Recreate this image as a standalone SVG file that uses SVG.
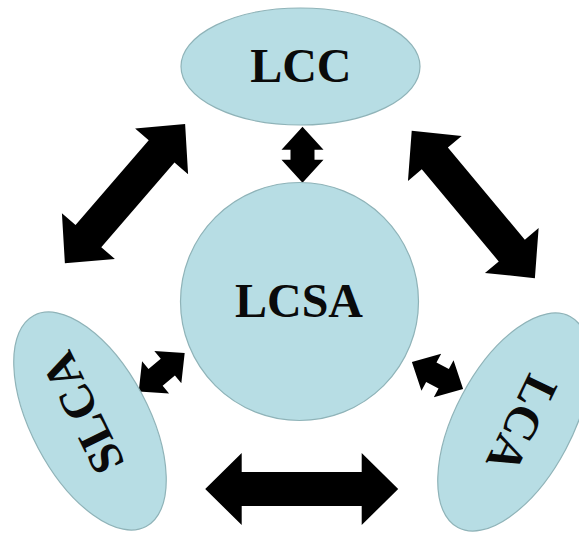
<svg xmlns="http://www.w3.org/2000/svg" width="579" height="534" viewBox="0 0 579 534">
  <defs>
    <style>
      .node { fill: #b7dde4; stroke: #8fb3b8; stroke-width: 1.2; }
      .label { font-family: "Liberation Serif", "Times New Roman", serif; font-weight: bold; font-size: 48px; fill: #0a0a0a; text-anchor: middle; }
      .arrow { fill: #000; stroke: none; }
    </style>
  </defs>
  <rect width="579" height="534" fill="#ffffff"/>

  <g id="connectors">
    <!-- LCC <-> LCSA -->
    <path class="arrow" transform="translate(302.5,154.7) rotate(90)" d="M-28,0 L-5,-21 L-5,-12 L5,-12 L5,-21 L28,0 L5,21 L5,12 L-5,12 L-5,21 Z"/>
    <!-- LCC <-> SLCA -->
    <path class="arrow" transform="translate(125,193.7) rotate(-49.2)" d="M-92,0 L-56,-35 L-56,-17 L56,-17 L56,-35 L92,0 L56,35 L56,17 L-56,17 L-56,35 Z"/>
    <!-- LCC <-> LCA -->
    <path class="arrow" transform="translate(473.3,204.5) rotate(50.1)" d="M-96,0 L-60,-35 L-60,-17 L60,-17 L60,-35 L96,0 L60,35 L60,17 L-60,17 L-60,35 Z"/>
    <!-- SLCA <-> LCA -->
    <path class="arrow" transform="translate(301.7,489) rotate(0)" d="M-96.5,0 L-60,-36 L-60,-17 L60,-17 L60,-36 L96.5,0 L60,36 L60,17 L-60,17 L-60,36 Z"/>
    <!-- SLCA <-> LCSA -->
    <path class="arrow" transform="translate(161.7,372.2) rotate(-40)" d="M-30,0 L-8,-21 L-8,-11 L8,-11 L8,-21 L30,0 L8,21 L8,11 L-8,11 L-8,21 Z"/>
    <!-- LCA <-> LCSA -->
    <path class="arrow" transform="translate(437.5,375.5) rotate(28)" d="M-29,0 L-7,-21 L-7,-11 L7,-11 L7,-21 L29,0 L7,21 L7,11 L-7,11 L-7,21 Z"/>
  </g>

  <g id="node-lcc">
    <ellipse class="node" cx="300.5" cy="66.5" rx="119.5" ry="58.5"/>
    <text class="label" x="300.8" y="81.7">LCC</text>
  </g>

  <g id="node-lcsa">
    <circle class="node" cx="299.5" cy="301.5" r="119"/>
    <text class="label" x="299" y="316.7">LCSA</text>
  </g>

  <g id="node-slca">
    <ellipse class="node" transform="translate(90,421) rotate(62)" cx="0" cy="0" rx="119.5" ry="58.5"/>
    <text class="label" transform="translate(83,413) rotate(-116)" x="0" y="16">SLCA</text>
  </g>

  <g id="node-lca">
    <ellipse class="node" transform="translate(514,422) rotate(-62)" cx="0" cy="0" rx="119.5" ry="58.5"/>
    <text class="label" transform="translate(522,424) rotate(116)" x="0" y="16">LCA</text>
  </g>
</svg>
